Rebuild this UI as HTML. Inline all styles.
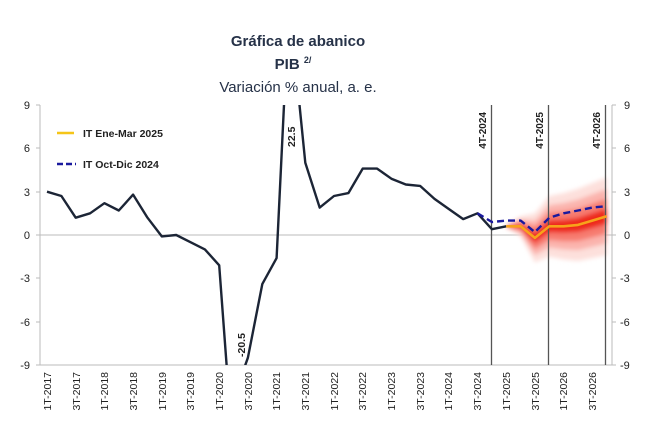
<!DOCTYPE html>
<html><head><meta charset="utf-8"><style>
html,body{margin:0;background:#fff;width:650px;height:434px;overflow:hidden;}
svg{display:block;font-family:"Liberation Sans",sans-serif;overflow:hidden;}
</style></head><body>
<svg width="650" height="434" viewBox="0 0 650 434">
<defs><clipPath id="c"><rect x="40" y="105" width="572" height="260"/></clipPath>
<filter id="b"><feGaussianBlur stdDeviation="2"/></filter></defs>
<text x="298" y="46" text-anchor="middle" font-size="15" font-weight="bold" fill="#263248">Gráfica de abanico</text>
<text x="293" y="69" text-anchor="middle" font-size="15" font-weight="bold" fill="#263248">PIB <tspan font-size="9" dy="-6">2/</tspan></text>
<text x="298" y="92" text-anchor="middle" font-size="15" fill="#263248">Variación % anual, a. e.</text>
<line x1="40" y1="105" x2="40" y2="365" stroke="#bbb"/>
<line x1="612" y1="105" x2="612" y2="365" stroke="#bbb"/>
<line x1="40" y1="365" x2="612" y2="365" stroke="#bbb"/>
<line x1="40" y1="235" x2="612" y2="235" stroke="#bbb"/>
<g stroke="#bbb"><line x1="36" y1="105" x2="40" y2="105"/><line x1="36" y1="148" x2="40" y2="148"/><line x1="36" y1="192" x2="40" y2="192"/><line x1="36" y1="235" x2="40" y2="235"/><line x1="36" y1="278" x2="40" y2="278"/><line x1="36" y1="322" x2="40" y2="322"/><line x1="36" y1="365" x2="40" y2="365"/>
<line x1="612" y1="105" x2="616" y2="105"/><line x1="612" y1="148" x2="616" y2="148"/><line x1="612" y1="192" x2="616" y2="192"/><line x1="612" y1="235" x2="616" y2="235"/><line x1="612" y1="278" x2="616" y2="278"/><line x1="612" y1="322" x2="616" y2="322"/><line x1="612" y1="365" x2="616" y2="365"/></g>
<g font-size="11" fill="#222" text-anchor="end">
<text x="30" y="109">9</text><text x="30" y="152">6</text><text x="30" y="196">3</text><text x="30" y="239">0</text><text x="30" y="282">-3</text><text x="30" y="326">-6</text><text x="30" y="369">-9</text></g>
<g font-size="11" fill="#222">
<text x="624" y="109">9</text><text x="624" y="152">6</text><text x="624" y="196">3</text><text x="624" y="239">0</text><text x="620" y="282">-3</text><text x="620" y="326">-6</text><text x="620" y="369">-9</text></g>
<g clip-path="url(#c)" filter="url(#b)">
<polygon fill="#fde0dc" points="506.2,224.9 520.6,216.2 534.9,213.4 549.3,196 563.6,193.1 578,188.8 592.3,183.1 606.7,177.2 606.7,255.2 592.3,258.1 578,261 563.6,259.5 549.3,256.6 534.9,262.4 520.6,236.4 506.2,227.7"/>
<polygon fill="#fbb4ad" points="506.2,225.3 520.6,219.2 534.9,220.7 549.3,205.1 563.6,203.1 578,199.6 592.3,194.3 606.7,188.9 606.7,243.5 592.3,246.9 578,250.2 563.6,249.5 549.3,247.5 534.9,255.1 520.6,233.4 506.2,227.3"/>
<polygon fill="#f77b70" points="506.2,225.7 520.6,221.8 534.9,226.9 549.3,212.7 563.6,211.4 578,208.7 592.3,203.7 606.7,198.6 606.7,233.8 592.3,237.5 578,241.1 563.6,241.2 549.3,239.9 534.9,248.9 520.6,230.8 506.2,226.9"/>
<polygon fill="#ee2a1e" points="506.2,226 520.6,224.3 534.9,233 549.3,220.2 563.6,219.7 578,217.7 592.3,213.1 606.7,208.4 606.7,224 592.3,228.1 578,232.1 563.6,232.9 549.3,232.4 534.9,242.8 520.6,228.3 506.2,226.6"/>
</g>
<g stroke="#555" stroke-width="1.3"><line x1="491.5" y1="105" x2="491.5" y2="365"/><line x1="548.5" y1="105" x2="548.5" y2="365"/><line x1="605.5" y1="105" x2="605.5" y2="365"/></g>
<g font-size="10" font-weight="bold" fill="#222">
<text transform="translate(486,112) rotate(-90)" text-anchor="end">4T-2024</text>
<text transform="translate(543,112) rotate(-90)" text-anchor="end">4T-2025</text>
<text transform="translate(600,112) rotate(-90)" text-anchor="end">4T-2026</text></g>
<g clip-path="url(#c)" fill="none" stroke-linejoin="round">
<polyline stroke="#1c2536" stroke-width="2.4" points="47,191.7 61.4,196 75.7,217.7 90.1,213.3 104.4,203.2 118.8,210.5 133.1,194.6 147.5,217.7 161.8,236.4 176.2,235 190.5,242.2 204.9,249.4 219.2,265.3 226.6,365 233.6,380 240,380 247.9,357.7 262.3,284.1 276.6,258.1 284,105 291,90 298,90 305.3,162.8 319.7,207.6 334,196 348.4,193.1 362.7,168.6 377.1,168.6 391.4,178.7 405.8,184.5 420.1,185.9 434.5,198.9 448.8,209 463.2,219.1 477.5,213.3 491.9,229.2 506.2,226.3"/>
<polyline stroke="#f7a21b" stroke-width="2.6" points="506.2,226.3 520.6,226.3 534.9,237.9 549.3,226.3 563.6,226.3 578,224.9 592.3,220.6 606.7,216.2"/>
<polyline stroke="#1a1a9e" stroke-width="2.4" stroke-dasharray="7,4" points="477.5,213.3 491.9,222 506.2,220.6 520.6,220.6 534.9,232.1 549.3,217.7 563.6,213.3 578,210.5 592.3,207.6 606.7,206.1"/>
</g>
<g font-size="10.5" font-weight="bold" fill="#222">
<text transform="translate(295,147) rotate(-90)">22.5</text>
<text transform="translate(245,357) rotate(-90)">-20.5</text></g>
<line x1="57" y1="133" x2="74" y2="133" stroke="#f5c518" stroke-width="2.5"/>
<text x="83" y="137" font-size="10.5" font-weight="bold" fill="#222">IT Ene-Mar 2025</text>
<line x1="57" y1="164" x2="76" y2="164" stroke="#1a1a9e" stroke-width="2.5" stroke-dasharray="6,3"/>
<text x="83" y="168" font-size="10.5" font-weight="bold" fill="#222">IT Oct-Dic 2024</text>
<g font-size="10.5" fill="#222" text-anchor="end">
<text transform="translate(51,372) rotate(-90)">1T-2017</text>
<text transform="translate(80,372) rotate(-90)">3T-2017</text>
<text transform="translate(108,372) rotate(-90)">1T-2018</text>
<text transform="translate(137,372) rotate(-90)">3T-2018</text>
<text transform="translate(166,372) rotate(-90)">1T-2019</text>
<text transform="translate(194,372) rotate(-90)">3T-2019</text>
<text transform="translate(223,372) rotate(-90)">1T-2020</text>
<text transform="translate(252,372) rotate(-90)">3T-2020</text>
<text transform="translate(280,372) rotate(-90)">1T-2021</text>
<text transform="translate(309,372) rotate(-90)">3T-2021</text>
<text transform="translate(338,372) rotate(-90)">1T-2022</text>
<text transform="translate(366,372) rotate(-90)">3T-2022</text>
<text transform="translate(395,372) rotate(-90)">1T-2023</text>
<text transform="translate(424,372) rotate(-90)">3T-2023</text>
<text transform="translate(452,372) rotate(-90)">1T-2024</text>
<text transform="translate(481,372) rotate(-90)">3T-2024</text>
<text transform="translate(510,372) rotate(-90)">1T-2025</text>
<text transform="translate(539,372) rotate(-90)">3T-2025</text>
<text transform="translate(567,372) rotate(-90)">1T-2026</text>
<text transform="translate(596,372) rotate(-90)">3T-2026</text>
</g>
</svg>
</body></html>
